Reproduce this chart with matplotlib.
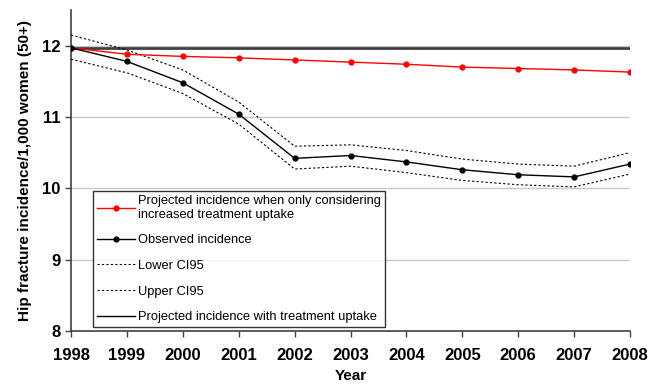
import matplotlib
matplotlib.use("Agg")
import matplotlib.pyplot as plt

plt.rcParams['font.family'] = ['Liberation Sans', 'DejaVu Sans']

# data
years = [1998, 1999, 2000, 2001, 2002, 2003, 2004, 2005, 2006, 2007, 2008]
projected_only = [11.97, 11.88, 11.85, 11.83, 11.80, 11.77, 11.74, 11.70, 11.68, 11.66, 11.63]
observed = [11.97, 11.78, 11.48, 11.04, 10.42, 10.46, 10.37, 10.26, 10.19, 10.16, 10.34]
lower_ci = [11.81, 11.62, 11.33, 10.90, 10.27, 10.31, 10.22, 10.11, 10.05, 10.02, 10.20]
upper_ci = [12.15, 11.94, 11.66, 11.21, 10.59, 10.61, 10.53, 10.41, 10.34, 10.31, 10.50]
projected_uptake = [11.97] * len(years)
labels = ["Projected incidence when only considering\nincreased treatment uptake",
          "Observed incidence", "Lower CI95", "Upper CI95",
          "Projected incidence with treatment uptake"]

fig = plt.figure(figsize=(6.6, 3.87), dpi=100)
ax = fig.add_axes([0.1076, 0.145, 0.847, 0.829])

# gridlines
for v in [9, 10, 11, 12]:
    ax.axhline(v, color='#c8c8c8', lw=1, zorder=0)

ax.plot(years, projected_only, color='red', lw=1, marker='o', ms=3.5, label=labels[0], zorder=4)
ax.plot(years, observed, color='black', lw=1, marker='o', ms=3.5, label=labels[1], zorder=4)
ax.plot(years, lower_ci, color='black', lw=0.8, ls=(0, (2, 2)), label=labels[2], zorder=3)
ax.plot(years, upper_ci, color='black', lw=0.8, ls=(0, (2, 2)), label=labels[3], zorder=3)
ax.plot(years, projected_uptake, color='#404040', lw=2, label=labels[4], zorder=2)

ax.set_xlim(1998, 2008)
ax.set_ylim(8, 12.5)
ax.set_xticks(years)
ax.set_yticks([8, 9, 10, 11, 12])
ax.tick_params(axis='both', labelsize=12, length=4, width=1, color='#404040')
for t in ax.get_xticklabels() + ax.get_yticklabels():
    t.set_fontweight('bold')
ax.tick_params(axis='x', pad=8)

for s in ['top', 'right']:
    ax.spines[s].set_visible(False)
for s in ['left', 'bottom']:
    ax.spines[s].set_color('#404040')
    ax.spines[s].set_linewidth(1.2)

ax.set_xlabel("Year", fontsize=11, fontweight='bold', labelpad=5)
ax.set_ylabel("Hip fracture incidence/1,000 women (50+)", fontsize=11, fontweight='bold', labelpad=7)

handles, lbls = ax.get_legend_handles_labels()
leg = ax.legend(handles, lbls, loc='lower left', bbox_to_anchor=(0.039, 0.012),
                borderaxespad=0, fontsize=9.3, frameon=True, fancybox=False,
                edgecolor='black', handlelength=3.0, handletextpad=0.2,
                labelspacing=1.05, borderpad=0.3)
leg.get_frame().set_linewidth(1)
leg.legend_handles[4].set_linewidth(1)
leg.legend_handles[4].set_color('black')

fig.savefig("out.png", dpi=100)
